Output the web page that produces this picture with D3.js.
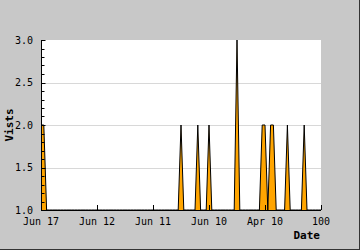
<!DOCTYPE html>
<html lang="en">
<head>
	<meta charset="UTF-8">
	<title>Visits</title>
	<script src="https://cdn.jsdelivr.net/npm/d3@7/dist/d3.min.js"></script>
	<style>
		body { margin: 0; }
		text { font-family: "DejaVu Sans Mono", monospace; fill: #000; }
	</style>
</head>
<body>
	<div id="container"></div>
	<script>
		var width = 360;
		var height = 250;

		// visits per point, 101 points (index 0..100)
		var visits = [
			2,2,1,1,1,1,1,1,1,1,
			1,1,1,1,1,1,1,1,1,1,
			1,1,1,1,1,1,1,1,1,1,
			1,1,1,1,1,1,1,1,1,1,
			1,1,1,1,1,1,1,1,1,1,
			2,1,1,1,1,1,2,1,1,1,
			2,1,1,1,1,1,1,1,1,1,
			3,1,1,1,1,1,1,1,1,2,
			2,1,2,2,1,1,1,1,2,1,
			1,1,1,1,2,1,1,1,1,1,
			1
		];
		var tickIndex = [0, 20, 40, 60, 80, 100];
		var tickLabels = ["Jun 17", "Jun 12", "Jun 11", "Jun 10", "Apr 10", "100"];
		var yMajor = [1.0, 1.5, 2.0, 2.5, 3.0];
		var yMinor = d3.range(10, 31).map(function(v) { return v / 10; });

		var svg = d3.select("#container").append("svg")
				.attr("width", width)
				.attr("height", height);

		svg.append("rect")
				.attr("width", width).attr("height", height)
				.attr("fill", "#c8c8c8");
		// frame shadow right / bottom
		svg.append("line").attr("x1", 359.5).attr("y1", 0).attr("x2", 359.5).attr("y2", 250)
				.attr("stroke", "#333");
		svg.append("line").attr("x1", 0).attr("y1", 249.5).attr("x2", 360).attr("y2", 249.5)
				.attr("stroke", "#333");

		var x = d3.scaleLinear().domain([0, visits.length - 1]).range([41, 321]);
		var y = d3.scaleLinear().domain([1, 3]).range([210, 40]);

		svg.append("rect")
				.attr("x", x(0)).attr("y", y(3))
				.attr("width", x(100) - x(0)).attr("height", y(1) - y(3))
				.attr("fill", "#fff");

		// grid
		svg.selectAll(".grid").data(yMajor.slice(1, 4))
			.enter().append("line")
				.attr("x1", x(0))
				.attr("x2", x(100))
				.attr("y1", (d) => Math.round(y(d)) + 0.5)
				.attr("y2", (d) => Math.round(y(d)) + 0.5)
				.attr("stroke", "#d8d8d8");

		var area = d3.area()
				.x((d, i) => x(i))
				.y0(y(1))
				.y1((d) => y(d));
		var line = d3.line()
				.x((d, i) => x(i))
				.y((d) => y(d));

		svg.append("path").datum(visits)
				.attr("d", area)
				.attr("fill", "#ffa500");
		svg.append("path").datum(visits)
				.attr("d", line)
				.attr("fill", "none")
				.attr("stroke", "#000")
				.attr("stroke-width", 1);

		// y axis
		svg.append("line")
				.attr("x1", 41.5).attr("x2", 41.5)
				.attr("y1", y(3)).attr("y2", y(1) + 0.5)
				.attr("stroke", "#000");
		svg.selectAll(".ytick").data(yMinor)
			.enter().append("line")
				.attr("x1", 41.5)
				.attr("x2", (d) => (Math.round(d * 10) % 5 == 0) ? 45.5 : 44.5)
				.attr("y1", (d) => Math.round(y(d)) + 0.5)
				.attr("y2", (d) => Math.round(y(d)) + 0.5)
				.attr("stroke", "#000");
		svg.selectAll(".ylabel").data(yMajor)
			.enter().append("text")
				.attr("x", 33)
				.attr("y", (d) => y(d) + 3.5)
				.attr("text-anchor", "end")
				.attr("font-size", "10px")
				.text((d) => d.toFixed(1));

		// x axis
		svg.append("line")
				.attr("x1", 41).attr("x2", 321)
				.attr("y1", 210.5).attr("y2", 210.5)
				.attr("stroke", "#000");
		svg.selectAll(".xtick").data(tickIndex)
			.enter().append("line")
				.attr("x1", (d) => Math.round(x(d)) + 0.5)
				.attr("x2", (d) => Math.round(x(d)) + 0.5)
				.attr("y1", 210)
				.attr("y2", 205)
				.attr("stroke", "#000");
		svg.selectAll(".xlabel").data(tickIndex)
			.enter().append("text")
				.attr("x", (d) => x(d))
				.attr("y", 225)
				.attr("text-anchor", "middle")
				.attr("font-size", "10px")
				.text((d, i) => tickLabels[i]);

		svg.append("text")
				.attr("x", 320).attr("y", 239)
				.attr("text-anchor", "end")
				.attr("font-size", "11px")
				.attr("font-weight", "bold")
				.text("Date");
		svg.append("text")
				.attr("transform", "translate(13,125) rotate(-90)")
				.attr("text-anchor", "middle")
				.attr("font-size", "11px")
				.attr("font-weight", "bold")
				.text("Vists");
	</script>
</body>
</html>
